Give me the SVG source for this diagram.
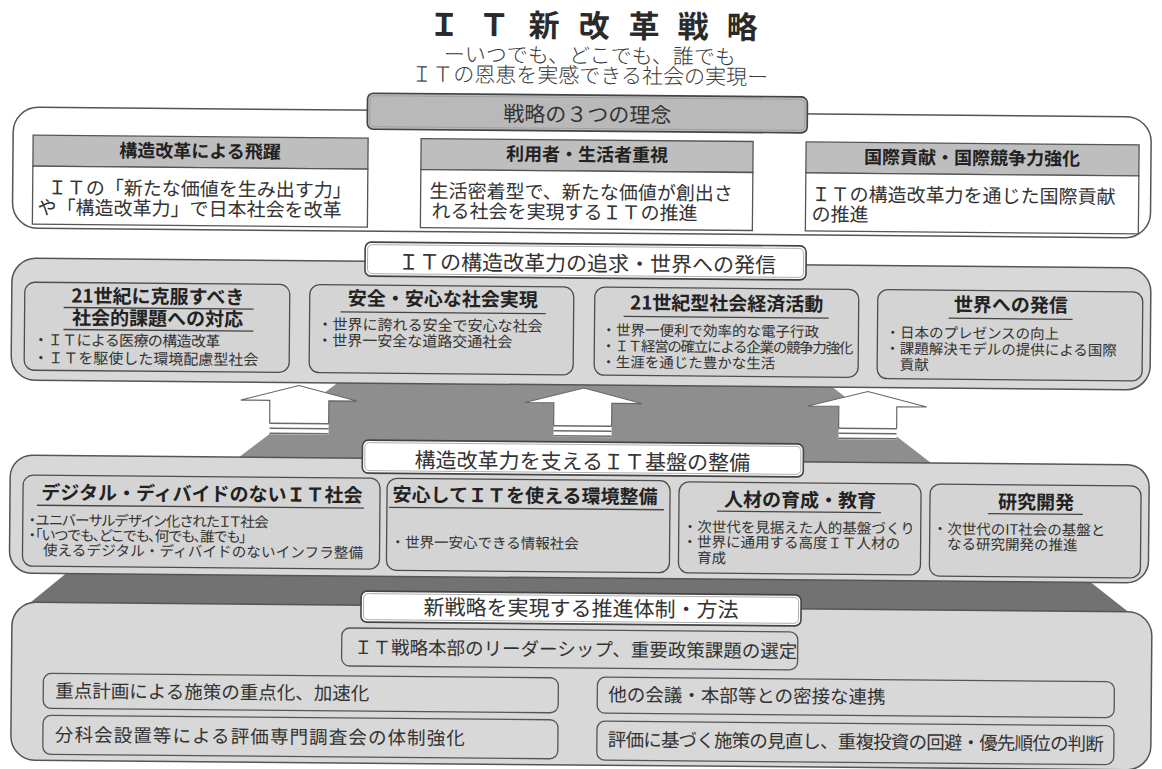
<svg xmlns="http://www.w3.org/2000/svg" width="1162" height="769" viewBox="0 0 1162 769">
<style>
text { font-family: "Noto Sans CJK JP", "Noto Sans", sans-serif; fill: #222; }
.title { font-size: 31px; font-weight: 700; text-anchor: middle; fill: #2a2a2a; }
.sub { font-size: 21px; font-weight: 300; text-anchor: middle; fill: #3a3a3a; }
.tabt { font-size: 21px; text-anchor: middle; fill: #333; }
.tab { fill: #ffffff; stroke: #444; stroke-width: 1.6; }
.tabg { fill: #b9b9b9; stroke: #444; stroke-width: 1.6; }
.tabin { fill: none; stroke: #9a9a9a; stroke-width: 0.8; }
.sec { fill: #d8d8d8; stroke: #555; stroke-width: 1.5; }
.sec1 { fill: #ffffff; stroke: #555; stroke-width: 1.5; }
.box { fill: #d4d4d4; stroke: #4d4d4d; stroke-width: 1.3; }
.hdr { fill: #bebebe; stroke: #555; stroke-width: 1.3; }
.body { fill: #ffffff; stroke: #555; stroke-width: 1.3; }
.h1 { font-size: 18px; font-weight: 700; text-anchor: middle; }
.b1 { font-size: 19px; fill: #333; }
.ht { font-size: 19px; font-weight: 700; text-anchor: middle; }
.ul { stroke: #444; stroke-width: 1.3; }
.bl { font-size: 15px; fill: #333; }
.bs { font-size: 14.5px; fill: #333; }
.pa { font-feature-settings: "palt"; }
.s4 { font-size: 18.5px; fill: #333; }
.s4box { fill: #d8d8d8; stroke: #555; stroke-width: 1.3; }
.dark1 { fill: #8e8e8e; }
.dark2 { fill: #727272; }
.arrow { fill: #ffffff; stroke: #666; stroke-width: 1.2; }
.stripe { stroke: #6a6a6a; stroke-width: 1.6; }
</style>
<rect x="0" y="0" width="1162" height="769" fill="#ffffff"/>
<g transform="rotate(0.5 581 384)">
  <g id="title">
    <text class="title" x="441 491 541 591 641 690 739" y="37">ＩＴ新改革戦略</text>
    <text class="sub" x="587" y="63">ーいつでも、どこでも、誰でも</text>
    <text class="sub" x="587" y="83">ＩＴの恩恵を実感できる社会の実現ー</text>
  </g>

  <g id="backgrounds">
    <polygon class="dark1" points="340,383 830,383 940,466 232,466"/>
    <polygon class="dark2" points="75,572 1085,572 1142,616 22,616"/>
  </g>

  <g id="section1">
    <rect class="sec1" x="11" y="112" width="1138" height="121" rx="25"/>
    <rect class="tabg" x="365" y="95" width="440" height="36" rx="6"/>
    <rect class="tabin" x="367.5" y="97.5" width="435" height="31" rx="4.5"/>
    <text class="tabt" x="585" y="122">戦略の３つの理念</text>
  </g>
  <g id="col1">
    <rect class="hdr" x="31" y="140" width="335" height="31"/>
    <rect class="body" x="31" y="171" width="335" height="58"/>
    <text class="h1" x="198" y="161">構造改革による飛躍</text>
    <text class="b1" x="46" y="199">ＩＴの「新たな価値を生み出す力」</text>
    <text class="b1" x="36" y="219">や「構造改革力」で日本社会を改革</text>
  </g>
  <g id="col2">
    <rect class="hdr" x="419" y="140" width="332" height="31"/>
    <rect class="body" x="419" y="171" width="332" height="58"/>
    <text class="h1" x="585" y="161">利用者・生活者重視</text>
    <text class="b1" x="428" y="199">生活密着型で、新たな価値が創出さ</text>
    <text class="b1" x="430" y="219">れる社会を実現するＩＴの推進</text>
  </g>
  <g id="col3">
    <rect class="hdr" x="804" y="140" width="333" height="31"/>
    <rect class="body" x="804" y="171" width="333" height="58"/>
    <text class="h1" x="970" y="161">国際貢献・国際競争力強化</text>
    <text class="b1" x="810" y="199">ＩＴの構造改革力を通じた国際貢献</text>
    <text class="b1" x="810" y="219">の推進</text>
  </g>

  <g id="section2">
    <rect class="sec" x="11" y="263" width="1139" height="122" rx="24"/>
    <rect class="tab" x="364" y="244" width="441" height="34" rx="6"/>
    <rect class="tabin" x="366.5" y="246.5" width="436" height="29" rx="4.5"/>
    <text class="tabt" x="586" y="271">ＩＴの構造改革力の追求・世界への発信</text>
  </g>
  <g id="s2a">
    <rect class="box" x="24" y="287" width="265" height="88" rx="10"/>
    <text class="ht" x="157" y="307">21世紀に克服すべき</text>
    <line class="ul" x1="63" y1="312" x2="253" y2="312"/>
    <text class="ht" x="157" y="329">社会的課題への対応</text>
    <line class="ul" x1="63" y1="334" x2="253" y2="334"/>
    <text class="bl" x="33" y="350" textLength="187">・ＩＴによる医療の構造改革</text>
    <text class="bl" x="33" y="368" textLength="225">・ＩＴを駆使した環境配慮型社会</text>
  </g>
  <g id="s2b">
    <rect class="box" x="309" y="287" width="264" height="88" rx="10"/>
    <text class="ht" x="442" y="307">安全・安心な社会実現</text>
    <line class="ul" x1="340" y1="314" x2="545" y2="314"/>
    <text class="bl" x="317" y="332">・世界に誇れる安全で安心な社会</text>
    <text class="bl" x="317" y="348">・世界一安全な道路交通社会</text>
  </g>
  <g id="s2c">
    <rect class="box" x="594" y="287" width="264" height="88" rx="10"/>
    <text class="ht" x="726" y="309">21世紀型社会経済活動</text>
    <line class="ul" x1="623" y1="316" x2="828" y2="316"/>
    <text class="bs" x="601" y="335">・世界一便利で効率的な電子行政</text>
    <text class="bs" x="601" y="351" textLength="252">・ＩＴ経営の確立による企業の競争力強化</text>
    <text class="bs" x="601" y="367">・生涯を通じた豊かな生活</text>
  </g>
  <g id="s2d">
    <rect class="box" x="877" y="287" width="265" height="89" rx="10"/>
    <text class="ht" x="1010" y="308">世界への発信</text>
    <line class="ul" x1="948" y1="315" x2="1072" y2="315"/>
    <text class="bs" x="885" y="335">・日本のプレゼンスの向上</text>
    <text class="bs" x="885" y="351">・課題解決モデルの提供による国際</text>
    <text class="bs" x="899.5" y="367">貢献</text>
  </g>

  <g id="connectors">
    <g id="arrow1">
      <polygon points="270,437 270,403 241,403 299,388 357,403 329,403 329,437" fill="#ffffff"/>
      <polyline class="arrow" points="270,426 270,403 241,403 299,388 357,403 329,403 329,426"/>
      <line class="stripe" x1="270" y1="426" x2="329" y2="426"/>
      <line class="stripe" x1="270" y1="431" x2="329" y2="431"/>
      <line class="stripe" x1="270" y1="436" x2="329" y2="436"/>
    </g>
    <g id="arrow2">
      <polygon points="554,437 554,403 525,403 584,388 642,403 612,403 612,437" fill="#ffffff"/>
      <polyline class="arrow" points="554,426 554,403 525,403 584,388 642,403 612,403 612,426"/>
      <line class="stripe" x1="554" y1="426" x2="612" y2="426"/>
      <line class="stripe" x1="554" y1="431" x2="612" y2="431"/>
      <line class="stripe" x1="554" y1="436" x2="612" y2="436"/>
    </g>
    <g id="arrow3">
      <polygon points="839,437 839,404 808,404 868,389 927,404 897,404 897,437" fill="#ffffff"/>
      <polyline class="arrow" points="839,426 839,404 808,404 868,389 927,404 897,404 897,426"/>
      <line class="stripe" x1="839" y1="426" x2="897" y2="426"/>
      <line class="stripe" x1="839" y1="431" x2="897" y2="431"/>
      <line class="stripe" x1="839" y1="436" x2="897" y2="436"/>
    </g>
  </g>

  <g id="section3">
    <rect class="sec" x="11" y="460" width="1139" height="118" rx="22"/>
    <rect class="tab" x="363" y="442" width="441" height="33" rx="6"/>
    <rect class="tabin" x="365.5" y="444.5" width="436" height="28" rx="4.5"/>
    <text class="tabt" x="583" y="469">構造改革力を支えるＩＴ基盤の整備</text>
  </g>
  <g id="s3a">
    <rect class="box" x="24" y="480" width="357" height="91" rx="10"/>
    <text class="ht" x="203" y="504">デジタル・ディバイドのないＩＴ社会</text>
    <line class="ul" x1="38" y1="510" x2="365" y2="510"/>
    <text class="bs pa" x="30" y="530" textLength="240">・ユニバーサルデザイン化されたＩＴ社会</text>
    <text class="bs pa" x="30" y="545" textLength="218">・「いつでも、どこでも、何でも、誰でも」</text>
    <text class="bs" x="44.5" y="560" textLength="320">使えるデジタル・ディバイドのないインフラ整備</text>
  </g>
  <g id="s3b">
    <rect class="box" x="388" y="480" width="283" height="92" rx="10"/>
    <text class="ht" x="526" y="503">安心してＩＴを使える環境整備</text>
    <line class="ul" x1="390" y1="509" x2="665" y2="509"/>
    <text class="bs" x="392" y="549">・世界一安心できる情報社会</text>
  </g>
  <g id="s3c">
    <rect class="box" x="680" y="481" width="242" height="91" rx="10"/>
    <text class="ht" x="801" y="505">人材の育成・教育</text>
    <line class="ul" x1="718" y1="510" x2="882" y2="510"/>
    <text class="bs" x="684" y="531">・次世代を見据えた人的基盤づくり</text>
    <text class="bs" x="684" y="546">・世界に通用する高度ＩＴ人材の</text>
    <text class="bs" x="698.5" y="562">育成</text>
  </g>
  <g id="s3d">
    <rect class="box" x="931" y="481" width="211" height="92" rx="10"/>
    <text class="ht" x="1037" y="505">研究開発</text>
    <line class="ul" x1="989" y1="510" x2="1084" y2="510"/>
    <text class="bs" x="934" y="531">・次世代のIT社会の基盤と</text>
    <text class="bs" x="948.5" y="546">なる研究開発の推進</text>
  </g>

  <g id="section4">
    <rect class="sec" x="14" y="607" width="1140" height="158" rx="24"/>
    <rect class="tab" x="363" y="593" width="440" height="31" rx="6"/>
    <rect class="tabin" x="365.5" y="595.5" width="435" height="26" rx="4.5"/>
    <text class="tabt" x="583" y="616">新戦略を実現する推進体制・方法</text>
  </g>
  <g id="s4top">
    <rect class="s4box" x="344" y="630" width="456" height="38" rx="8"/>
    <text class="s4" x="578" y="656" text-anchor="middle">ＩＴ戦略本部のリーダーシップ、重要政策課題の選定</text>
  </g>
  <g id="s4l1">
    <rect class="s4box" x="46" y="678" width="515" height="35" rx="8"/>
    <text class="s4" x="58" y="702">重点計画による施策の重点化、加速化</text>
  </g>
  <g id="s4r1">
    <rect class="s4box" x="600" y="677" width="517" height="36" rx="8"/>
    <text class="s4" x="611" y="701">他の会議・本部等との密接な連携</text>
  </g>
  <g id="s4l2">
    <rect class="s4box" x="46" y="720" width="515" height="39" rx="8"/>
    <text class="s4" x="58" y="746" textLength="410">分科会設置等による評価専門調査会の体制強化</text>
  </g>
  <g id="s4r2">
    <rect class="s4box" x="600" y="721" width="517" height="39" rx="8"/>
    <text class="s4" x="611" y="746" textLength="496">評価に基づく施策の見直し、重複投資の回避・優先順位の判断</text>
  </g>
</g>
</svg>
